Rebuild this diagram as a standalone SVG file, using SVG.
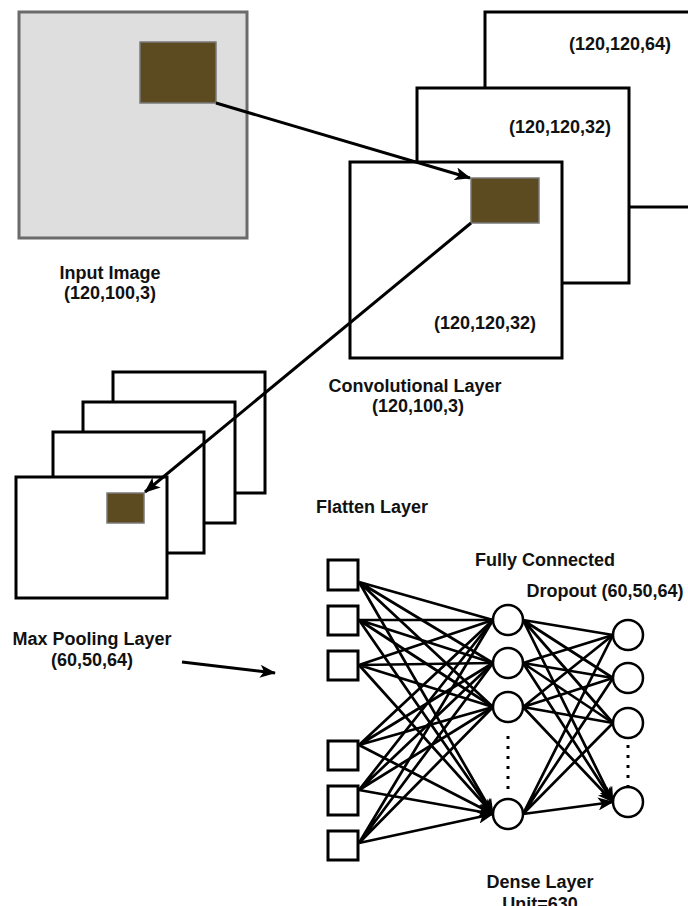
<svg xmlns="http://www.w3.org/2000/svg" width="688" height="906" viewBox="0 0 688 906">
<style>
text{font-family:"Liberation Sans",Arial,sans-serif;font-weight:bold;font-size:18px;fill:#111;text-anchor:middle}
.map{fill:#fff;stroke:#000;stroke-width:3}
.patch{fill:#5c4a20;stroke:#7a7a7a;stroke-width:1.5}
.ed{fill:none;stroke:#000;stroke-width:2.7;marker-end:url(#ah)}
.big{fill:none;stroke:#000;stroke-width:3;marker-end:url(#ah)}
.nd{fill:#fff;stroke:#000;stroke-width:2.5}
.dots{fill:none;stroke:#000;stroke-width:3;stroke-dasharray:3 7}
</style>
<defs>
<marker id="ah" viewBox="0 0 16 13" refX="15" refY="6.5" markerWidth="16" markerHeight="13" markerUnits="userSpaceOnUse" orient="auto">
<path d="M0,0 L16,6.5 L0,13 L4,6.5 z" fill="#000"/>
</marker>
</defs>
<rect width="688" height="906" fill="#fff"/>

<g id="input-image">
<rect x="19" y="12" width="228" height="226" fill="#dedede" stroke="#6b6b6b" stroke-width="3"/>
<rect class="patch" x="140" y="42" width="76" height="61"/>
<text x="110" y="279">Input Image</text>
<text x="110" y="299">(120,100,3)</text>
</g>

<g id="conv-layer">
<rect class="map" x="485" y="12" width="215" height="195"/>
<text x="620" y="50">(120,120,64)</text>
<rect class="map" x="417" y="88" width="212" height="195"/>
<text x="560" y="133">(120,120,32)</text>
<rect class="map" x="350" y="162" width="212" height="196"/>
<rect class="patch" x="471" y="178" width="68" height="45"/>
<text x="485" y="329">(120,120,32)</text>
<text x="415" y="392">Convolutional Layer</text>
<text x="418" y="412">(120,100,3)</text>
</g>

<g id="max-pooling">
<rect class="map" x="113" y="372" width="152" height="121"/>
<rect class="map" x="83" y="402" width="152" height="121"/>
<rect class="map" x="53" y="432" width="151" height="121"/>
<rect class="map" x="16" y="477" width="151" height="121"/>
<rect class="patch" x="107" y="493" width="37" height="30"/>
<text x="92" y="645">Max Pooling Layer</text>
<text x="92" y="666">(60,50,64)</text>
</g>

<g id="flatten-label"><text x="372" y="513">Flatten Layer</text></g>

<g id="connectors">
<path class="big" d="M216,103 L470,178"/>
<path class="big" d="M471,223 L145,492"/>
<path class="big" d="M182,662 L275,673"/>
<path class="ed" d="M359,582 L493,620 M359,582 L493,663 M359,582 L493,707 M359,582 L493,814"/>
<path class="ed" d="M359,620 L493,620 M359,620 L493,663 M359,620 L493,707 M359,620 L493,814"/>
<path class="ed" d="M359,665 L493,620 M359,665 L493,663 M359,665 L493,707 M359,665 L493,814"/>
<path class="ed" d="M359,745 L493,620 M359,745 L493,663 M359,745 L493,707 M359,745 L493,814"/>
<path class="ed" d="M359,790 L493,620 M359,790 L493,663 M359,790 L493,707 M359,790 L493,814"/>
<path class="ed" d="M359,843 L493,620 M359,843 L493,663 M359,843 L493,707 M359,843 L493,814"/>
<path class="ed" d="M523,620 L613,635 M523,620 L613,678 M523,620 L613,723 M523,620 L613,802"/>
<path class="ed" d="M523,663 L613,635 M523,663 L613,678 M523,663 L613,723 M523,663 L613,802"/>
<path class="ed" d="M523,707 L613,635 M523,707 L613,678 M523,707 L613,723 M523,707 L613,802"/>
<path class="ed" d="M523,814 L613,635 M523,814 L613,678 M523,814 L613,723 M523,814 L613,802"/>
</g>

<g id="flatten-nodes">
<rect class="map" x="328" y="560" width="30" height="30"/>
<rect class="map" x="328" y="606" width="30" height="29"/>
<rect class="map" x="328" y="651" width="30" height="29"/>
<rect class="map" x="328" y="741" width="30" height="29"/>
<rect class="map" x="328" y="786" width="30" height="29"/>
<rect class="map" x="328" y="831" width="30" height="29"/>
</g>

<g id="dense-layer">
<circle class="nd" cx="508" cy="620" r="15"/>
<circle class="nd" cx="508" cy="663" r="15"/>
<circle class="nd" cx="508" cy="707" r="15"/>
<circle class="nd" cx="508" cy="814" r="15"/>
<path class="dots" d="M508,736 V792"/>
<text x="545" y="566">Fully Connected</text>
<text x="540" y="888">Dense Layer</text>
<text x="540" y="910">Unit=630</text>
</g>

<g id="dropout-layer">
<circle class="nd" cx="628" cy="635" r="15"/>
<circle class="nd" cx="628" cy="678" r="15"/>
<circle class="nd" cx="628" cy="723" r="15"/>
<circle class="nd" cx="628" cy="802" r="15"/>
<path class="dots" d="M628,745 V787"/>
<text x="605" y="597">Dropout (60,50,64)</text>
</g>
</svg>
